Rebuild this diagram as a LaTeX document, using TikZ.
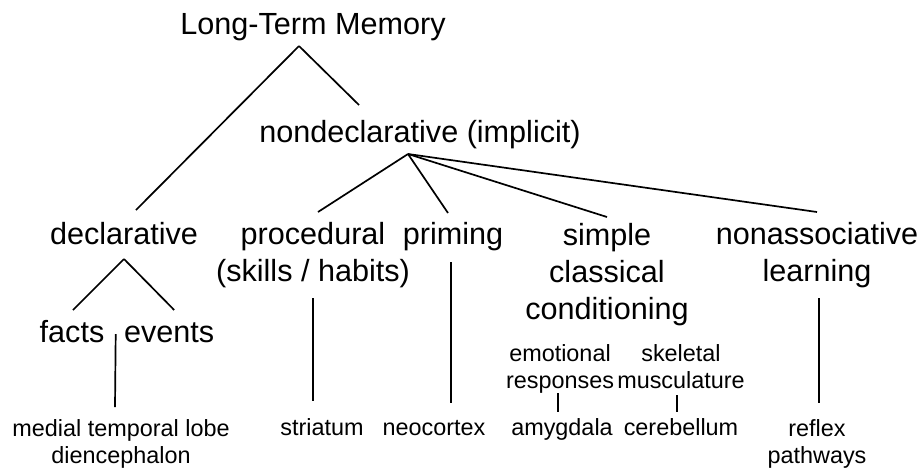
\documentclass[tikz,border=0pt]{standalone}
\usepackage{fontspec}
\setmainfont{Liberation Sans}
\usetikzlibrary{positioning}
\usetikzlibrary{calc}
\newcommand{\termfont}{\fontsize{15.3}{18.5}\selectfont}
\newcommand{\areafont}{\fontsize{11.7}{13.5}\selectfont}
% multi-line nodes sit on the baseline of their last line
\tikzstyle{term} = [inner sep=0pt, anchor=base, align=center, font=\termfont]
\tikzstyle{area} = [inner sep=0pt, anchor=base, align=center, font=\areafont]
\tikzstyle{link} = [draw=black, line width=0.85pt]

\begin{document}
\begin{tikzpicture}[x=0.5pt, y=-0.5pt]
\useasboundingbox (0,0) rectangle (923,468);

% Define nodes
\node[term] (ltm)      at (313,34)  {Long-Term Memory};
\node[term] (nd)       at (420,142) {nondeclarative (implicit)};
\node[term] (decl)     at (124,244) {declarative};
\node[term] (proc)     at (313,281) {procedural\\(skills / habits)};
\node[term] (prim)     at (453,244) {priming};
\node[term] (cc)       at (607,319) {simple\\classical\\conditioning};
\node[term] (nonassoc) at (817,281) {nonassociative\\learning};
\node[term] (facts)    at (72,342)  {facts};
\node[term, base right = 9.5pt of facts] (events) {events};

\node[area] (mtl)  at (121,463) {medial temporal lobe\\diencephalon};
\node[area] (str)  at (322,435) {striatum};
\node[area] (neo)  at (434,435) {neocortex};
\node[area] (emo)  at (560,388) {emotional\\responses};
\node[area] (skel) at (681,388) {skeletal\\musculature};
\node[area] (amy)  at (562,435) {amygdala};
\node[area] (cer)  at (681,435) {cerebellum};
\node[area] (refl) at (817,463) {reflex\\pathways};

% Edges
\coordinate (ltmfork)  at ($(ltm.base)+(-14,12)$);
\coordinate (ndfork)   at ($(nd.base)+(-12,12)$);
\coordinate (declfork) at ($(decl.base)+(0,15)$);

\draw[link] (ltmfork) -- ($(decl.base)+(12,-34)$);
\draw[link] (ltmfork) -- ($(nd.base)+(-61,-37)$);

\draw[link] (ndfork) -- ($(proc.base)+(5,-69)$);
\draw[link] (ndfork) -- ($(prim.base)+(-5,-31)$);
\draw[link] (ndfork) -- ($(cc.base)+(0,-102)$);
\draw[link] (ndfork) -- ($(nonassoc.base)+(0,-69)$);

\draw[link] (declfork) -- ($(facts.base)+(1,-32)$);
\draw[link] (declfork) -- ($(events.base)+(5,-32)$);
\draw[link] ($(facts.base east)!.5!(events.base west)+(1.5,-8)$) -- ($(mtl.base)+(-6,-56)$);

\draw[link] ($(proc.base)+(0,17)$)     -- ($(str.base)+(-9,-34)$);
\draw[link] ($(prim.base)+(-2,18)$)    -- ($(neo.base)+(17,-32)$);
\draw[link] ($(emo.base)+(-2,5)$)      -- ($(amy.base)+(-4,-23)$);
\draw[link] ($(skel.base)+(-4,7)$)     -- ($(cer.base)+(-4,-23)$);
\draw[link] ($(nonassoc.base)+(2,17)$) -- ($(refl.base)+(2,-60)$);
\end{tikzpicture}
\end{document}
